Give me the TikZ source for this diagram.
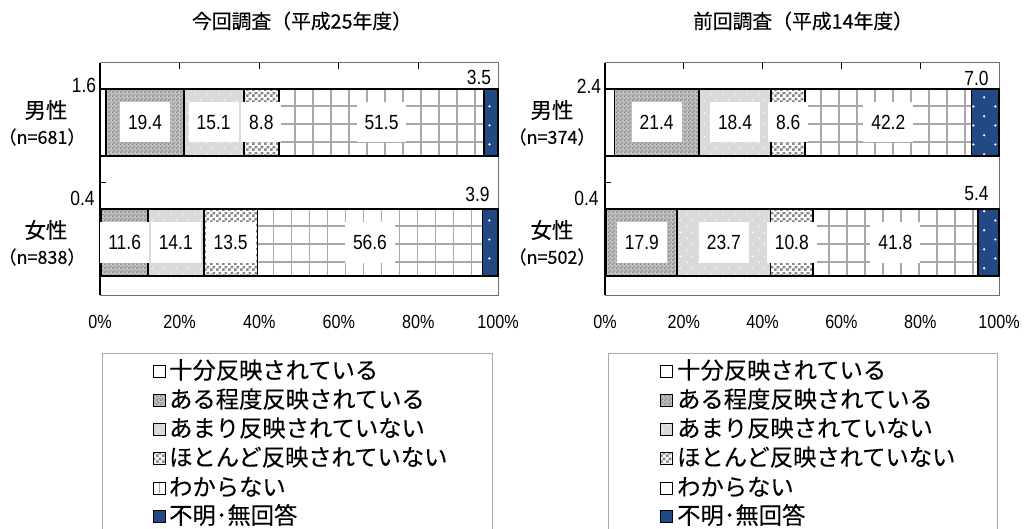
\documentclass[tikz,border=0pt]{standalone}
\usepackage{fontspec}
\setmainfont{Noto Sans CJK JP}[FakeBold=0.2]
\newfontfamily\numf[FakeStretch=0.85]{Liberation Sans}
\usetikzlibrary{patterns}
\definecolor{cblue}{RGB}{33,74,132}
\definecolor{gA}{RGB}{196,196,196}
\definecolor{gAd}{RGB}{140,140,140}
\definecolor{gB}{RGB}{218,218,218}
\definecolor{gC}{RGB}{135,135,135}
\definecolor{gridc}{RGB}{168,168,168}
\definecolor{framec}{RGB}{110,110,110}
\definecolor{legc}{RGB}{170,170,170}
\pgfdeclarepatternformonly{pdense}{\pgfqpoint{0pt}{0pt}}{\pgfqpoint{4pt}{4pt}}{\pgfqpoint{4pt}{4pt}}{%
 \pgfpathrectangle{\pgfqpoint{0pt}{0pt}}{\pgfqpoint{2pt}{2pt}}%
 \pgfpathrectangle{\pgfqpoint{2pt}{2pt}}{\pgfqpoint{2pt}{2pt}}%
 \pgfusepath{fill}}
\pgfdeclarepatternformonly{psparkle}{\pgfqpoint{0pt}{0pt}}{\pgfqpoint{12pt}{12pt}}{\pgfqpoint{12pt}{12pt}}{%
 \pgfpathcircle{\pgfqpoint{3pt}{3pt}}{0.9pt}%
 \pgfpathcircle{\pgfqpoint{9pt}{9pt}}{0.9pt}%
 \pgfusepath{fill}}
\pgfdeclarepatternformonly{pcheck}{\pgfqpoint{0pt}{0pt}}{\pgfqpoint{6pt}{6pt}}{\pgfqpoint{6pt}{6pt}}{%
 \pgfpathrectangle{\pgfqpoint{0pt}{0pt}}{\pgfqpoint{3pt}{3pt}}%
 \pgfpathrectangle{\pgfqpoint{3pt}{3pt}}{\pgfqpoint{3pt}{3pt}}%
 \pgfusepath{fill}}
\pgfdeclarepatternformonly{pdots}{\pgfqpoint{0pt}{0pt}}{\pgfqpoint{22pt}{19pt}}{\pgfqpoint{22pt}{19pt}}{%
 \pgfpathcircle{\pgfqpoint{5.5pt}{4.75pt}}{1.3pt}%
 \pgfpathcircle{\pgfqpoint{16.5pt}{14.25pt}}{1.3pt}%
 \pgfusepath{fill}}
% grid-filled segment: x1 y1 x2 y2
\newcommand{\gridseg}[4]{%
  \fill[white] (#1,#2) rectangle (#3,#4);
  \begin{scope}
    \clip (#1,#2) rectangle (#3,#4);
    \pgfmathsetmacro{\gsa}{#1+16}\pgfmathsetmacro{\gsb}{#1+34}
    \foreach \gx in {\gsa,\gsb,...,#3} \draw[gridc, line width=1.8pt] (\gx,#2) -- (\gx,#4);
    \foreach \gy in {17,35,53} \draw[gridc, line width=1.8pt] (#1,#2+\gy) -- (#3,#2+\gy);
  \end{scope}
  \draw[black, line width=1.8pt] (#1,#2) rectangle (#3,#4);
}
\begin{document}
\begin{tikzpicture}[x=1pt,y=-1pt,
  seg/.style={draw=black, line width=1.8pt},
  c1/.style={seg, fill=white},
  c2/.style={seg, preaction={fill=gA}, pattern=pdense, pattern color=gAd},
  c3/.style={seg, preaction={fill=gB}, pattern=psparkle, pattern color=white},
  c4/.style={seg, preaction={fill=white}, pattern=pcheck, pattern color=gC},
  c5/.style={seg, fill=white},
  c6/.style={seg, preaction={fill=cblue}, pattern=pdots, pattern color=white},
  lbl/.style={fill=white, font=\numf\fontsize{20.5}{24}\selectfont, inner xsep=8pt, inner ysep=0pt, minimum height=40pt, text height=14.7pt, text depth=0pt},
  olbl/.style={font=\numf\fontsize{20.5}{24}\selectfont, inner sep=0pt},
  axl/.style={font=\numf\fontsize{19}{22}\selectfont, inner sep=0pt},
  cat/.style={font=\fontsize{21.5}{24}\selectfont, inner sep=0pt},
  catn/.style={font=\fontsize{18}{20}\selectfont, inner sep=0pt},
  ttl/.style={font=\fontsize{19.8}{22}\selectfont, inner sep=0pt},
  leg/.style={font=\fontsize{23.3}{26}\selectfont, inner sep=0pt, anchor=west},
  lsq/.style={line width=1pt},
  frm/.style={draw=framec, line width=1pt},
  legbox/.style={draw=legc, line width=1pt}
]
\useasboundingbox (0,0) rectangle (1027,529);

% titles
\node[ttl] (t1) at (302,21) {今回調査（平成25年度）};
\node[ttl] (t2) at (803,21) {前回調査（平成14年度）};

% ===== left chart frame =====
\draw[frm] (100,63) rectangle (498,295);
\draw[black, line width=1.3pt] (100,63) -- (100,295);
\foreach \xx in {179.6,259.2,338.8,418.4} \draw[black, line width=1pt] (\xx,63) -- (\xx,69);
\draw[black, line width=1pt] (100,183) -- (106,183);

% left men
\draw[c1] (100,89) rectangle (106.37,156);
\draw[c2] (106.37,89) rectangle (183.66,156);
\draw[c3] (183.66,89) rectangle (243.82,156);
\draw[c4] (243.82,89) rectangle (278.88,156);
\gridseg{278.88}{89}{484.05}{156}
\draw[c6] (484.05,89) rectangle (498,156);
% left women
\draw[c1] (100,209) rectangle (101.59,276);
\draw[c2] (101.59,209) rectangle (147.71,276);
\draw[c3] (147.71,209) rectangle (203.77,276);
\draw[c4] (203.77,209) rectangle (257.45,276);
\gridseg{257.45}{209}{482.49}{276}
\draw[c6] (482.49,209) rectangle (498,276);

\node[lbl] (lm2) at (145.0,122.5) {19.4};
\node[lbl] (lm3) at (213.7,122.5) {15.1};
\node[lbl] (lm4) at (261.35,122.5) {8.8};
\node[lbl] (lm5) at (381.5,122.5) {51.5};
\node[lbl] (lw2) at (124.65,242.5) {11.6};
\node[lbl] (lw3) at (175.74,242.5) {14.1};
\node[lbl] (lw4) at (230.61,242.5) {13.5};
\node[lbl] (lw5) at (369.97,242.5) {56.6};
\node[olbl] (lm1) at (84,85) {1.6};
\node[olbl] (lm6) at (479,77) {3.5};
\node[olbl] (lw1) at (82.5,198) {0.4};
\node[olbl] (lw6) at (477.5,194) {3.9};

\node[cat] (lc1) at (46,110) {男性};
\node[catn] (lc1n) at (42,137) {（n=681）};
\node[cat] (lc2) at (46,230) {女性};
\node[catn] (lc2n) at (42,257) {（n=838）};

\node[axl] (la0) at (100,322) {0\%};
\node[axl] (la1) at (179.6,322) {20\%};
\node[axl] (la2) at (259.2,322) {40\%};
\node[axl] (la3) at (338.8,322) {60\%};
\node[axl] (la4) at (418.4,322) {80\%};
\node[axl] (la5) at (498,322) {100\%};

% ===== right chart frame =====
\draw[frm] (605,63) rectangle (999,295);
\draw[black, line width=1.3pt] (605,63) -- (605,295);
\foreach \xx in {683.8,762.6,841.4,920.2} \draw[black, line width=1pt] (\xx,63) -- (\xx,69);
\draw[black, line width=1pt] (605,183) -- (611,183);

% right men
\draw[c1] (605,89) rectangle (614.46,156);
\draw[c2] (614.46,89) rectangle (698.77,156);
\draw[c3] (698.77,89) rectangle (771.27,156);
\draw[c4] (771.27,89) rectangle (805.15,156);
\gridseg{805.15}{89}{971.42}{156}
\draw[c6] (971.42,89) rectangle (999,156);
% right women
\draw[c1] (605,209) rectangle (606.58,276);
\draw[c2] (606.58,209) rectangle (677.10,276);
\draw[c3] (677.10,209) rectangle (770.48,276);
\draw[c4] (770.48,209) rectangle (813.03,276);
\gridseg{813.03}{209}{977.72}{276}
\draw[c6] (977.72,209) rectangle (999,276);

\node[lbl] (rm2) at (656.6,122.5) {21.4};
\node[lbl] (rm3) at (735.0,122.5) {18.4};
\node[lbl] (rm4) at (788.2,122.5) {8.6};
\node[lbl] (rm5) at (888.3,122.5) {42.2};
\node[lbl] (rw2) at (641.84,242.5) {17.9};
\node[lbl] (rw3) at (723.79,242.5) {23.7};
\node[lbl] (rw4) at (791.76,242.5) {10.8};
\node[lbl] (rw5) at (895.38,242.5) {41.8};
\node[olbl] (rm1) at (589,86) {2.4};
\node[olbl] (rm6) at (976.5,78) {7.0};
\node[olbl] (rw1) at (586.5,198) {0.4};
\node[olbl] (rw6) at (976.5,194) {5.4};

\node[cat] (rc1) at (552,110) {男性};
\node[catn] (rc1n) at (552,137) {（n=374）};
\node[cat] (rc2) at (552,230) {女性};
\node[catn] (rc2n) at (552,257) {（n=502）};

\node[axl] (ra0) at (605,322) {0\%};
\node[axl] (ra1) at (683.8,322) {20\%};
\node[axl] (ra2) at (762.6,322) {40\%};
\node[axl] (ra3) at (841.4,322) {60\%};
\node[axl] (ra4) at (920.2,322) {80\%};
\node[axl] (ra5) at (999,322) {100\%};

% ===== legends =====
\draw[legbox] (102,540) -- (102,353) -- (492,353) -- (492,540);
\draw[legbox] (608,540) -- (608,353) -- (997,353) -- (997,540);

\draw[c1,lsq] (153,365) rectangle (165,377);
\draw[c2,lsq] (153,394) rectangle (165,406);
\draw[c3,lsq] (153,423) rectangle (165,435);
\draw[c4,lsq] (153,452) rectangle (165,464);
\draw[c5,lsq] (153,482) rectangle (165,494);
\draw[gridc, line width=1pt] (159,483) -- (159,493);
\draw[c6,lsq] (153,510) rectangle (165,522);
\node[leg] (l1) at (169,370) {十分反映されている};
\node[leg] (l2) at (169,399) {ある程度反映されている};
\node[leg] (l3) at (169,428) {あまり反映されていない};
\node[leg] (l4) at (169,457) {ほとんど反映されていない};
\node[leg] (l5) at (169,487) {わからない};
\node[leg] (l6) at (169,515) {不明･無回答};

\draw[c1,lsq] (660,365) rectangle (672,377);
\draw[c2,lsq] (660,394) rectangle (672,406);
\draw[c3,lsq] (660,423) rectangle (672,435);
\draw[c4,lsq] (660,452) rectangle (672,464);
\draw[c5,lsq] (660,482) rectangle (672,494);
\draw[c6,lsq] (660,510) rectangle (672,522);
\node[leg] (r1) at (677,370) {十分反映されている};
\node[leg] (r2) at (677,399) {ある程度反映されている};
\node[leg] (r3) at (677,428) {あまり反映されていない};
\node[leg] (r4) at (677,457) {ほとんど反映されていない};
\node[leg] (r5) at (677,487) {わからない};
\node[leg] (r6) at (677,515) {不明･無回答};
\end{tikzpicture}
\end{document}
